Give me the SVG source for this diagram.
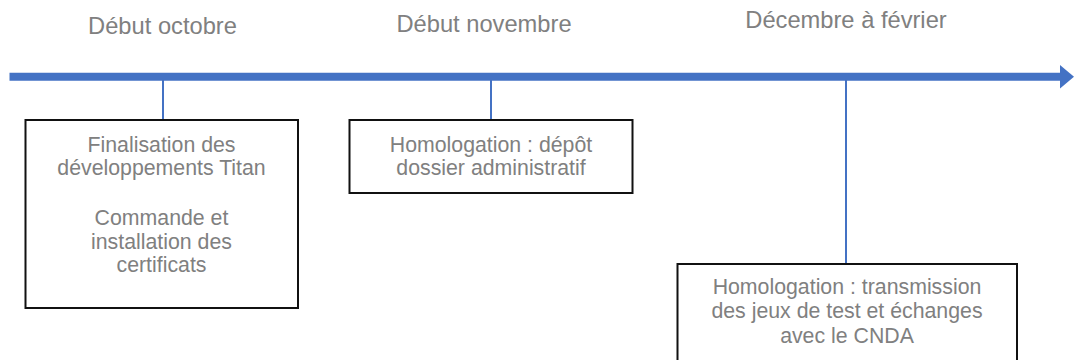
<svg xmlns="http://www.w3.org/2000/svg" width="1074" height="360" viewBox="0 0 1074 360">
<style>
.h{font-family:"Liberation Sans",Arial,sans-serif;font-size:23.7px;fill:#808080;text-anchor:middle}
.t{font-family:"Liberation Sans",Arial,sans-serif;font-size:21.3px;fill:#808080;text-anchor:middle}
.box{fill:#fff;stroke:#111;stroke-width:2}
.tick{stroke:#4472C4;stroke-width:2;fill:none}
</style>
<rect width="1074" height="360" fill="#fff"/>
<g id="timeline">
<line x1="9.5" y1="76.7" x2="1061" y2="76.7" stroke="#4472C4" stroke-width="8"/>
<polygon points="1060,65 1074,76.7 1060,88.5" fill="#4472C4"/>
</g>
<g id="headings">
<text class="h" x="162.5" y="34.3">Début octobre</text>
<text class="h" x="484" y="31.7">Début novembre</text>
<text class="h" x="846" y="28.3">Décembre à février</text>
</g>
<g id="connectors">
<line class="tick" x1="163" y1="80" x2="163" y2="120"/>
<line class="tick" x1="491" y1="80" x2="491" y2="120"/>
<line class="tick" x1="846" y1="80" x2="846" y2="264"/>
</g>
<g id="node1">
<rect class="box" x="25.5" y="120" width="272.5" height="188"/>
<text class="t" x="161.5" y="152.3">Finalisation des</text>
<text class="t" x="161.5" y="175">développements Titan</text>
<text class="t" x="161.5" y="225">Commande et</text>
<text class="t" x="161.5" y="248.5">installation des</text>
<text class="t" x="161.5" y="272">certificats</text>
</g>
<g id="node2">
<rect class="box" x="349.5" y="120" width="283" height="73"/>
<text class="t" x="491" y="151.7">Homologation : dépôt</text>
<text class="t" x="491" y="174.5">dossier administratif</text>
</g>
<g id="node3">
<rect class="box" x="677.5" y="264" width="339.5" height="110"/>
<text class="t" x="847" y="294">Homologation : transmission</text>
<text class="t" x="847" y="318.3">des jeux de test et échanges</text>
<text class="t" x="847" y="343">avec le CNDA</text>
</g>
</svg>
